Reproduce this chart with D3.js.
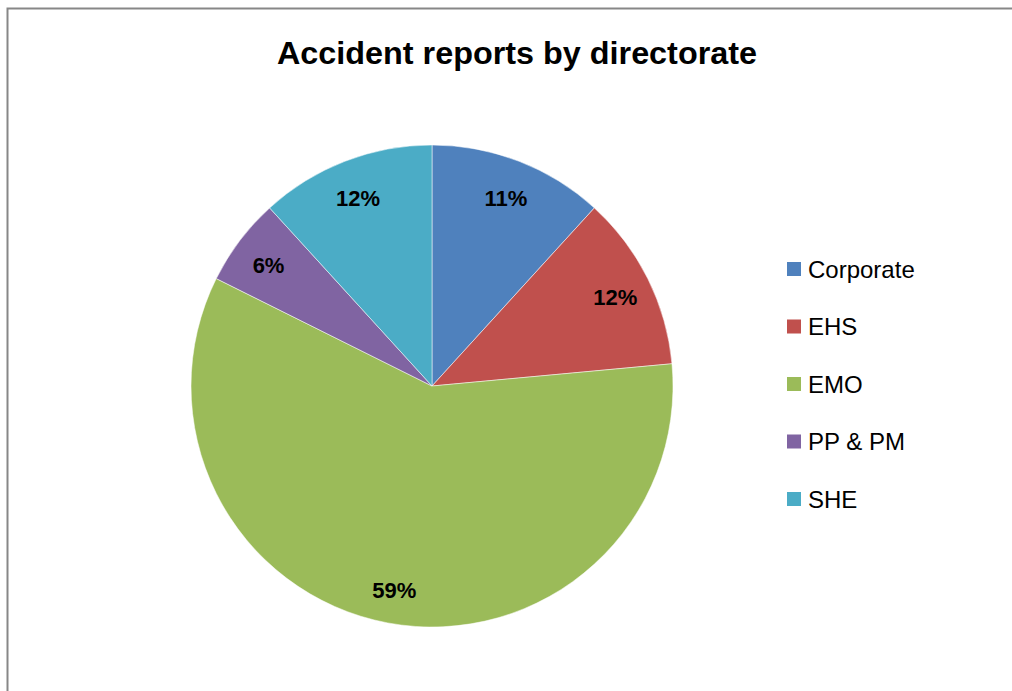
<!DOCTYPE html>
<html>
<head>
<meta charset="utf-8">
<script src="https://cdn.jsdelivr.net/npm/d3@7"></script>
<style>
  html, body { margin: 0; padding: 0; background: #fff; overflow: hidden; }
  svg { display: block; overflow: hidden; }
</style>
</head>
<body>
<svg id="chart" width="1012" height="691"></svg>
<script>
const categories = ["Corporate", "EHS", "EMO", "PP & PM", "SHE"];
const values = [2, 2, 10, 1, 2];
const percentLabels = ["11%", "12%", "59%", "6%", "12%"];
const colors = ["#4F81BD", "#C0504D", "#9BBB59", "#8064A2", "#4BACC6"];
const title = "Accident reports by directorate";

const svg = d3.select("#chart");
const W = 1012, H = 691;

svg.append("rect").attr("x", 0).attr("y", 0).attr("width", W).attr("height", H).attr("fill", "#fff");
// chart area border (extends past right/bottom edge)
svg.append("path")
  .attr("d", `M7.5,${H + 5} V8.5 H${W + 5}`)
  .attr("fill", "none").attr("stroke", "#878787").attr("stroke-width", 2);

// title
svg.append("text")
  .attr("x", 517).attr("y", 64)
  .attr("text-anchor", "middle")
  .attr("font-family", "'Liberation Sans', Arial, sans-serif")
  .attr("font-weight", "bold")
  .attr("font-size", 31)
  .attr("textLength", 480)
  .attr("lengthAdjust", "spacingAndGlyphs")
  .attr("fill", "#000")
  .text(title);

const cx = 432, cy = 386, R = 241;
const color = d3.scaleOrdinal().domain(categories).range(colors);
const pie = d3.pie().sort(null).value(d => d.v);
const data = categories.map((c, i) => ({ c, v: values[i], label: percentLabels[i] }));
const arcs = pie(data);
const arc = d3.arc().innerRadius(0).outerRadius(R);
const labelArc = d3.arc().innerRadius(R * 0.85).outerRadius(R * 0.85);

const g = svg.append("g").attr("transform", `translate(${cx},${cy})`);
g.selectAll("path.slice").data(arcs).enter().append("path")
  .attr("class", "slice")
  .attr("d", arc)
  .attr("fill", d => color(d.data.c))
  .attr("stroke", "#ffffff")
  .attr("stroke-opacity", 0.5)
  .attr("stroke-width", 1);

g.selectAll("text.lbl").data(arcs).enter().append("text")
  .attr("class", "lbl")
  .attr("transform", d => { const [x, y] = labelArc.centroid(d); return `translate(${x},${y + 3})`; })
  .attr("text-anchor", "middle")
  .attr("dy", "0.35em")
  .attr("font-family", "'Liberation Sans', Arial, sans-serif")
  .attr("font-weight", "bold")
  .attr("font-size", 22)
  .attr("fill", "#000")
  .text(d => d.data.label);

// legend
const legendY = d3.scalePoint().domain(categories).range([269, 499]);
const lg = svg.append("g");
const items = lg.selectAll("g").data(categories).enter().append("g")
  .attr("transform", d => `translate(787,${legendY(d)})`);
items.append("rect")
  .attr("x", 0).attr("y", -7).attr("width", 14).attr("height", 14)
  .attr("fill", d => color(d));
items.append("text")
  .attr("x", 21).attr("y", 8.5)
  .attr("font-family", "'Liberation Sans', Arial, sans-serif")
  .attr("font-size", 24)
  .attr("fill", "#000")
  .text(d => d);
</script>
</body>
</html>
